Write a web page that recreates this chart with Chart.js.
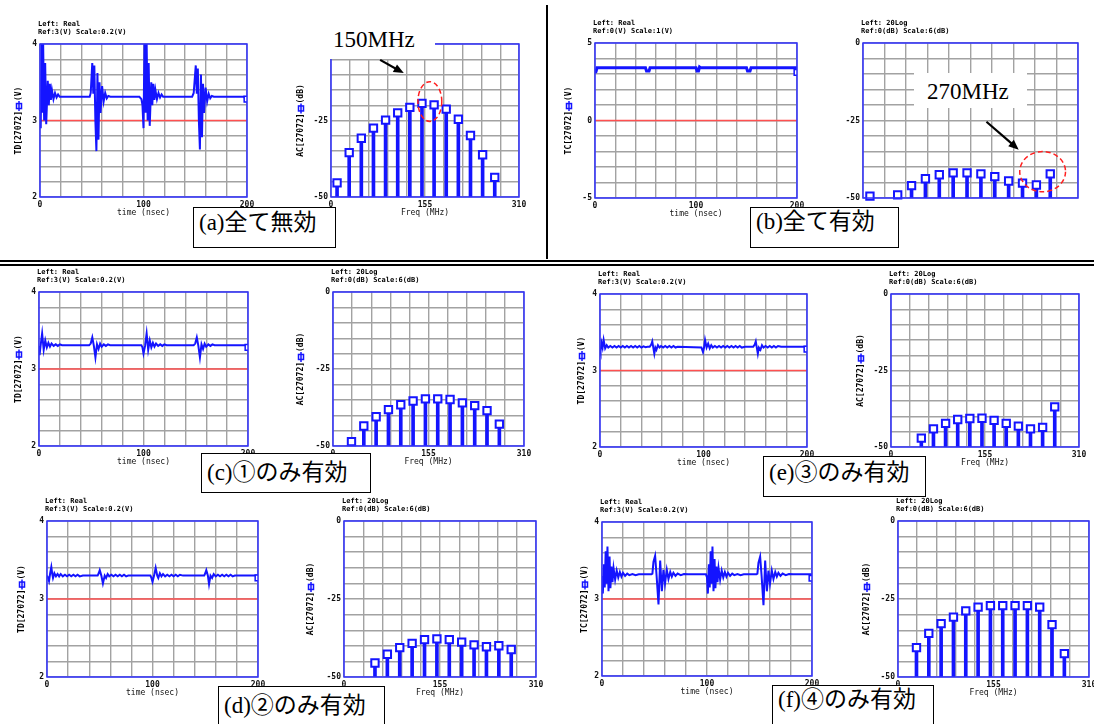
<!DOCTYPE html>
<html>
<head>
<meta charset="utf-8">
<script src="https://cdn.jsdelivr.net/npm/chart.js@4"></script>
<style>
html, body { margin: 0; padding: 0; background: #fff; width: 1094px; height: 724px; overflow: hidden; }
canvas { position: absolute; }
.rule { position: absolute; background: #000; }
.box { position: absolute; box-sizing: border-box; border: 1.5px solid #000; background: #fff; z-index: 10;
       padding-left: 5px; white-space: nowrap; color: #000;
       font-family: "Liberation Serif", "Noto Sans CJK JP", serif; font-size: 23px; }
.note { position: absolute; box-sizing: border-box; background: #fff; z-index: 10; white-space: nowrap; color: #000;
        font-family: "Liberation Serif", serif; font-size: 23px; }
</style>
</head>
<body>
<div class="rule" style="left:546px;top:5px;width:1.5px;height:254px"></div>
<div class="rule" style="left:0;top:260px;width:1094px;height:2px"></div>
<div class="rule" style="left:0;top:263.5px;width:1094px;height:2px"></div>

<div class="box" style="left:193px;top:207px;width:143px;height:41px;line-height:30px">(a)全て無効</div>
<div class="box" style="left:750px;top:207px;width:149px;height:41px;line-height:28px">(b)全て有効</div>
<div class="box" style="left:201px;top:453px;width:170px;height:40px;line-height:38px">(c)①のみ有効</div>
<div class="box" style="left:763px;top:456px;width:163px;height:41px;line-height:32px">(e)③のみ有効</div>
<div class="box" style="left:218px;top:686px;width:167px;height:45px;line-height:38px">(d)②のみ有効</div>
<div class="box" style="left:772px;top:685px;width:162px;height:45px;line-height:28px">(f)④のみ有効</div>

<div class="note" style="left:318px;top:18px;width:117px;height:41px;line-height:44px;padding-left:15px">150MHz</div>
<div class="note" style="left:914px;top:73px;width:113px;height:35px;line-height:38px;padding-left:13px">270MHz</div>

<script>
// ---- data ----
const tdXLabels = [0, 100, 200];
const tdYLabels = [2, 3, 4];
const tdYLabelsB = [-5, 0, 5];
const fdXLabels = [0, 155, 310];
const fdYLabels = [-50, -25, 0];

const harmonics = [10, 30, 50, 70, 90, 110, 130, 150, 170, 190, 210, 230, 250, 270];
const fdA = [-45.4, -35.5, -30.8, -27.5, -24.9, -22.5, -20.7, -19.4, -19.9, -21.3, -24.6, -29.9, -36.2, -43.6];
const fdB = [-49.4, null, -49.0, -46.0, -43.8, -42.5, -41.9, -41.9, -42.2, -43.1, -44.5, -45.2, -45.8, -42.2];
const fdC = [null, -48.6, -43.5, -40.5, -38.2, -36.6, -35.4, -34.7, -34.7, -34.9, -36.0, -36.9, -38.5, -42.9];
const fdD = [null, null, -45.5, -42.7, -40.6, -39.2, -38.0, -37.8, -38.0, -38.8, -39.7, -40.3, -40.0, -41.2];
const fdE = [null, null, -47.1, -44.1, -42.3, -41.0, -40.7, -40.6, -41.3, -42.3, -43.2, -44.1, -43.6, -36.9];
const fdF = [null, -40.6, -36.0, -32.9, -30.8, -28.8, -27.6, -27.1, -27.1, -27.1, -27.1, -27.6, -33.2, -42.5];

// time waveforms [nsec, V]
const tdA = [[0,3.28],[0.7,2.9],[1.5,4.05],[2.3,3.1],[3,4.05],[4,3.0],[5,3.75],[6,2.95],[7.5,3.52],[8.5,3.2],[9.5,3.48],[10.5,3.27],[11.5,3.4],[13,3.28],[14.5,3.36],[16,3.3],[17.5,3.34],[19,3.31],
  [48,3.31],[49,3.36],[50.5,3.75],[51.5,3.35],[52.5,3.72],[53.5,3.0],[54.5,2.6],[55.5,3.62],[56.5,2.75],[57.5,3.5],[58.5,3.1],[60,3.45],[61.5,3.25],[63,3.36],[64.5,3.29],[66,3.32],[68,3.31],
  [96,3.31],[98,3.28],[99,3.2],[100,2.9],[101,4.05],[102,3.1],[103,4.05],[104,3.0],[105,3.75],[106,2.93],[107.5,3.5],[108.5,3.2],[109.5,3.48],[110.5,3.27],[111.5,3.4],[113,3.28],[114.5,3.36],[116,3.3],[117.5,3.34],[119,3.31],
  [147,3.31],[148.5,3.36],[150.5,3.72],[151.5,3.35],[152.5,3.68],[153.5,3.0],[154.5,2.62],[155.5,3.6],[156.5,2.78],[157.5,3.48],[158.5,3.1],[160,3.43],[161.5,3.25],[163,3.35],[164.5,3.29],[166,3.32],[168,3.31],
  [197,3.31],[198.5,3.28],[200,3.28]];
const tdB = [[0,3.1],[1,3.15],[2,3.4],[50,3.4],[51,3.2],[53.5,3.2],[54.5,3.4],[100,3.4],[101,3.2],[102.5,3.2],[103.5,3.45],[104.5,3.4],
  [150,3.4],[151,3.2],[153.5,3.2],[154.5,3.4],[199,3.4],[200,3.1]];
const tdC = [[0,3.3],[0.5,3.18],[1.5,3.3],[3,3.46],[4.5,3.25],[6,3.37],[7.5,3.28],[9,3.34],[10.5,3.29],[12,3.33],[14,3.3],[16,3.32],[18,3.3],[20,3.32],[22,3.31],
  [48,3.31],[49.5,3.33],[51,3.41],[52.5,3.3],[54,3.15],[55.5,3.32],[57,3.26],[58.5,3.33],[60,3.29],[62,3.32],[64,3.3],[66,3.32],[68,3.31],
  [98,3.31],[99,3.28],[100,3.2],[101.5,3.3],[103,3.46],[104.5,3.25],[106,3.37],[107.5,3.28],[109,3.34],[110.5,3.29],[112,3.33],[114,3.3],[116,3.32],[118,3.3],[120,3.32],[122,3.31],
  [148,3.31],[149.5,3.33],[151,3.41],[152.5,3.3],[154,3.15],[155.5,3.32],[157,3.26],[158.5,3.33],[160,3.29],[162,3.32],[164,3.3],[166,3.32],[168,3.31],
  [199,3.31],[200,3.28]];
const tdD = [[0,3.3],[1,3.27],[1.9,3.23],[3,3.33],[4.1,3.41],[5,3.32],[5.7,3.27],[7,3.33],[8.5,3.29],[10,3.32],[11.5,3.29],[13,3.32],[15,3.29],[17,3.31],[19,3.29],[21,3.31],[23,3.29],[25,3.31],[27,3.29],[29,3.31],[31,3.29],[34,3.3],
  [48,3.3],[49,3.33],[50,3.37],[51.5,3.3],[53,3.2],[54.7,3.3],[56,3.27],[57.5,3.32],[59,3.29],[61,3.31],[63,3.29],[65,3.31],[67,3.29],[69,3.31],[71,3.29],[73,3.31],[75,3.29],[77,3.3],
  [98,3.3],[99,3.27],[100,3.22],[101.5,3.3],[103,3.4],[104.5,3.3],[105.5,3.27],[107,3.33],[108.5,3.29],[110,3.32],[112,3.29],[114,3.31],[116,3.29],[118,3.31],[120,3.29],[122,3.31],[124,3.29],[126,3.31],[129,3.3],
  [149,3.3],[150,3.33],[151,3.37],[152.5,3.3],[153.6,3.19],[155,3.3],[156.5,3.27],[158,3.32],[160,3.29],[162,3.31],[164,3.29],[166,3.31],[168,3.29],[170,3.31],[172,3.29],[174,3.31],[176,3.29],[178,3.3],
  [199,3.3],[200,3.27]];
const tdE = [[0,3.28],[0.5,3.25],[1.5,3.36],[2.5,3.3],[3.5,3.4],[5,3.29],[6.5,3.33],[8,3.3],[10,3.32],[12,3.3],[14,3.32],[16,3.3],[18,3.32],[20,3.3],[22,3.32],[24,3.3],[26,3.32],[28,3.3],[30,3.32],[32,3.3],[34,3.32],[36,3.3],[38,3.32],[40,3.3],[42,3.315],[44,3.305],[46,3.31],
  [48,3.31],[49.5,3.34],[50.5,3.38],[51.5,3.3],[52.5,3.22],[53.5,3.3],[54.5,3.27],[56,3.33],[57.5,3.3],[59,3.32],[61,3.3],[63,3.32],[65,3.3],[67,3.32],[69,3.3],[71,3.32],[73,3.3],[75,3.31],
  [98,3.3],[99.5,3.24],[100.5,3.3],[101.5,3.4],[103,3.3],[104.5,3.35],[106,3.29],[107.5,3.33],[109,3.3],[111,3.32],[113,3.3],[115,3.32],[117,3.3],[119,3.32],[121,3.3],[123,3.32],[125,3.3],[127,3.32],[129,3.3],[131,3.32],[133,3.3],[135,3.32],[137,3.3],[140,3.31],
  [148,3.31],[149.5,3.34],[150.5,3.38],[151.5,3.3],[152.5,3.22],[153.5,3.3],[155,3.27],[156.5,3.33],[158,3.3],[160,3.32],[162,3.3],[164,3.32],[166,3.3],[168,3.32],[170,3.3],[172,3.32],[175,3.31],
  [199,3.31],[200,3.28]];
const tdF = [[0,3.3],[0.8,3.07],[1.8,3.45],[2.6,3.15],[3.5,3.62],[4.5,3.2],[5.2,3.68],[6.2,3.1],[7.2,3.55],[8,3.14],[9,3.42],[10,3.22],[11,3.4],[12.5,3.25],[14,3.37],[15.5,3.28],[17,3.35],[18.5,3.29],[20,3.34],[22,3.3],[24,3.33],[26,3.31],[29,3.325],[32,3.31],[35,3.32],[38,3.32],
  [47,3.32],[48,3.33],[49,3.48],[50.6,3.56],[52,3.3],[53.8,2.93],[55.4,3.5],[57,3.1],[58.5,3.38],[60,3.2],[61.7,3.38],[63.3,3.26],[65,3.35],[66.5,3.29],[68,3.34],[70,3.3],[72,3.33],[75,3.31],[78,3.325],[82,3.32],
  [99,3.32],[100,3.28],[100.8,3.07],[101.8,3.45],[102.6,3.15],[103.5,3.62],[104.5,3.2],[105.2,3.68],[106.2,3.1],[107.2,3.52],[108,3.14],[109,3.42],[110,3.22],[111,3.4],[112.5,3.25],[114,3.37],[115.5,3.28],[117,3.35],[118.5,3.29],[120,3.34],[122,3.3],[124,3.33],[126,3.31],[129,3.325],[132,3.31],[135,3.32],[138,3.32],
  [147,3.32],[148,3.33],[149,3.47],[150.6,3.55],[152,3.3],[153.8,2.92],[155.4,3.5],[157,3.1],[158.5,3.37],[160,3.2],[161.7,3.37],[163.3,3.26],[165,3.35],[166.5,3.29],[168,3.34],[170,3.3],[172,3.33],[175,3.31],[178,3.325],[182,3.32],
  [199,3.32],[200,3.27]];

// ---- drawing ----
const BLUE = '#1414ff';
const FRAME = '#3030ff';
const RED = '#ff5050';
const GRID = '#a2a2a2';
const M = { l: 45, t: 30, r: 14, b: 21 };

Chart.defaults.font.family = '"DejaVu Sans Mono", monospace';
Chart.defaults.color = '#111';

function makeCanvas(r) {
    const c = document.createElement('canvas');
    c.width = r[2] - r[0] + M.l + M.r;
    c.height = r[3] - r[1] + M.t + M.b;
    c.style.left = (r[0] - M.l) + 'px';
    c.style.top = (r[1] - M.t) + 'px';
    document.body.appendChild(c);
    return c;
}

function onlyLabels(list) {
    return function (v) {
        return list.some(l => Math.abs(l - v) < 1e-6) ? String(Math.round(v * 10) / 10) : '';
    };
}

const deco = {
    id: 'deco',
    afterDraw(chart, args, o) {
        const { ctx, chartArea: a, scales } = chart;
        ctx.save();
        ctx.strokeStyle = FRAME;
        ctx.lineWidth = 1.5;
        ctx.strokeRect(a.left, a.top, a.width, a.height);

        ctx.fillStyle = '#000';
        ctx.font = 'bold 7px "DejaVu Sans Mono"';
        ctx.textBaseline = 'middle';
        ctx.textAlign = 'left';
        ctx.fillText(o.head[0], a.left - 2, a.top - 20);
        ctx.fillText(o.head[1], a.left - 2, a.top - 12);

        if (o.yTitle) {
            ctx.save();
            ctx.translate(a.left - o.yOff, (a.top + a.bottom) / 2);
            ctx.rotate(-Math.PI / 2);
            ctx.font = 'bold 8px "DejaVu Sans Mono"';
            const w1 = ctx.measureText(o.yTitle[0]).width;
            const w2 = ctx.measureText(o.yTitle[1]).width;
            const gap = 10;
            const x0 = -(w1 + gap + w2) / 2;
            ctx.fillText(o.yTitle[0], x0, 0);
            const ix = x0 + w1 + gap / 2;
            ctx.strokeStyle = BLUE;
            ctx.lineWidth = 1.5;
            ctx.beginPath();
            ctx.moveTo(ix - 5, 0);
            ctx.lineTo(ix + 5, 0);
            ctx.stroke();
            ctx.strokeRect(ix - 2.5, -2.5, 5, 5);
            ctx.fillText(o.yTitle[1], x0 + w1 + gap, 0);
            ctx.restore();
        }

        if (o.notes) {
            const n = o.notes;
            const sx = scales.x, sy = scales.y;
            const cx = sx.getPixelForValue(n.ellipse[0]), cy = sy.getPixelForValue(n.ellipse[1]);
            const rx = Math.abs(sx.getPixelForValue(n.ellipse[0] + n.ellipse[2]) - cx);
            const ry = Math.abs(sy.getPixelForValue(n.ellipse[1] + n.ellipse[3]) - cy);
            ctx.strokeStyle = '#ff2020';
            ctx.lineWidth = 1.5;
            ctx.setLineDash([5, 3]);
            ctx.beginPath();
            ctx.ellipse(cx, cy, rx, ry, 0, 0, Math.PI * 2);
            ctx.stroke();
            ctx.setLineDash([]);

            const x1 = sx.getPixelForValue(n.arrow[0]), y1 = sy.getPixelForValue(n.arrow[1]);
            const x2 = sx.getPixelForValue(n.arrow[2]), y2 = sy.getPixelForValue(n.arrow[3]);
            const ang = Math.atan2(y2 - y1, x2 - x1);
            ctx.strokeStyle = '#000';
            ctx.fillStyle = '#000';
            ctx.lineWidth = 2.2;
            ctx.beginPath();
            ctx.moveTo(x1, y1);
            ctx.lineTo(x2 - 8 * Math.cos(ang), y2 - 8 * Math.sin(ang));
            ctx.stroke();
            ctx.beginPath();
            ctx.moveTo(x2, y2);
            ctx.lineTo(x2 - 11 * Math.cos(ang - 0.4), y2 - 11 * Math.sin(ang - 0.4));
            ctx.lineTo(x2 - 11 * Math.cos(ang + 0.4), y2 - 11 * Math.sin(ang + 0.4));
            ctx.closePath();
            ctx.fill();
        }
        ctx.restore();
    }
};

function axis(min, max, step, labels, title, showLabels) {
    return {
        type: 'linear',
        min: min,
        max: max,
        offset: false,
        ticks: {
            stepSize: step,
            autoSkip: false,
            maxRotation: 0,
            padding: 3,
            display: showLabels,
            font: { size: 8, weight: 'bold' },
            callback: onlyLabels(labels)
        },
        grid: { color: GRID, lineWidth: 1.4, drawTicks: false, offset: false },
        border: { display: false },
        title: { display: !!title && showLabels, text: title, padding: 0, font: { size: 8 } }
    };
}

function tdChart(cfg) {
    const wave = cfg.wave;
    const last = wave.length - 1;
    const x = axis(0, 200, 20, tdXLabels, 'time (nsec)', true);
    x.afterFit = s => { s.height = M.b; };
    const y = axis(cfg.y[0], cfg.y[1], cfg.y[2], cfg.yLabels, '', true);
    y.afterFit = s => { s.width = M.l; };
    new Chart(makeCanvas(cfg.rect), {
        type: 'scatter',
        data: {
            datasets: [{
                data: wave.map(p => ({ x: p[0], y: p[1] })),
                showLine: true,
                borderColor: BLUE,
                borderWidth: cfg.lw,
                tension: 0,
                pointStyle: 'rect',
                pointRadius: c => (c.dataIndex === last ? 4 : 0),
                pointBorderColor: BLUE,
                pointBackgroundColor: '#fff',
                pointBorderWidth: 1.5
            }, {
                data: [{ x: 0, y: cfg.ref }, { x: 200, y: cfg.ref }],
                showLine: true,
                borderColor: RED,
                borderWidth: 1.5,
                pointRadius: 0
            }]
        },
        options: {
            responsive: false,
            animation: false,
            layout: { padding: { left: 0, top: M.t, right: M.r, bottom: 0 } },
            scales: { x: x, y: y },
            plugins: {
                legend: { display: false },
                tooltip: { enabled: false },
                deco: { head: ['Left: Real', cfg.head], yTitle: [cfg.name, '(V)'], yOff: cfg.yOff }
            }
        },
        plugins: [deco]
    });
}

function fdChart(cfg) {
    const pts = [];
    harmonics.forEach((f, i) => {
        if (cfg.values[i] !== null) pts.push({ x: f, y: cfg.values[i] });
    });
    const x = axis(0, 310, 31, fdXLabels, 'Freq (MHz)', cfg.showX);
    x.afterFit = s => { s.height = M.b; };
    const y = axis(-50, 0, 5, fdYLabels, '', true);
    y.afterFit = s => { s.width = M.l; };
    new Chart(makeCanvas(cfg.rect), {
        type: 'bar',
        data: {
            datasets: [{
                type: 'line',
                data: pts,
                showLine: false,
                pointStyle: 'rect',
                pointRadius: 5.2,
                pointBorderWidth: 2,
                pointBorderColor: BLUE,
                pointBackgroundColor: '#fff',
                clip: false
            }, {
                type: 'bar',
                data: pts.map(p => ({ x: p.x, y: [-50, p.y] })),
                backgroundColor: BLUE,
                barThickness: 3,
                grouped: false
            }]
        },
        options: {
            responsive: false,
            animation: false,
            layout: { padding: { left: 0, top: M.t, right: M.r, bottom: 0 } },
            scales: { x: x, y: y },
            plugins: {
                legend: { display: false },
                tooltip: { enabled: false },
                deco: {
                    head: ['Left: 20Log', 'Ref:0(dB) Scale:6(dB)'],
                    yTitle: cfg.yTitle ? ['AC[27072]', '(dB)'] : null,
                    yOff: cfg.yOff,
                    notes: cfg.notes
                }
            }
        },
        plugins: [deco]
    });
}

const std = [2, 4, 0.2];
tdChart({ rect: [40, 44, 247, 197], wave: tdA, ref: 3, y: std, yLabels: tdYLabels, name: 'TD[27072]', head: 'Ref:3(V) Scale:0.2(V)', yOff: 21, lw: 2 });
tdChart({ rect: [595, 43, 797, 198], wave: tdB, ref: 0, y: [-5, 5, 1], yLabels: tdYLabelsB, name: 'TC[27072]', head: 'Ref:0(V) Scale:1(V)', yOff: 26, lw: 3 });
tdChart({ rect: [39, 292, 248, 446], wave: tdC, ref: 3, y: std, yLabels: tdYLabels, name: 'TD[27072]', head: 'Ref:3(V) Scale:0.2(V)', yOff: 20, lw: 2 });
tdChart({ rect: [600, 294, 807, 447], wave: tdE, ref: 3, y: std, yLabels: tdYLabels, name: 'TD[27072]', head: 'Ref:3(V) Scale:0.2(V)', yOff: 18, lw: 2 });
tdChart({ rect: [47, 521, 258, 677], wave: tdD, ref: 3, y: std, yLabels: tdYLabels, name: 'TD[27072]', head: 'Ref:3(V) Scale:0.2(V)', yOff: 25, lw: 2 });
tdChart({ rect: [602, 522, 812, 676], wave: tdF, ref: 3, y: std, yLabels: tdYLabels, name: 'TC[27072]', head: 'Ref:3(V) Scale:0.2(V)', yOff: 17, lw: 2 });

fdChart({ rect: [331, 44, 519, 197], values: fdA, showX: true, yTitle: true, yOff: 30,
          notes: { ellipse: [163, -18.8, 19.7, 6.5], arrow: [81, -5.2, 120, -9.5] } });
fdChart({ rect: [863, 43, 1078, 198], values: fdB, showX: false, yTitle: false, yOff: 30,
          notes: { ellipse: [259, -41.5, 33, 6.5], arrow: [178, -25.4, 224.5, -34.4] } });
fdChart({ rect: [333, 292, 524, 446], values: fdC, showX: true, yTitle: true, yOff: 32 });
fdChart({ rect: [891, 294, 1079, 447], values: fdE, showX: true, yTitle: true, yOff: 30 });
fdChart({ rect: [344, 521, 536, 677], values: fdD, showX: true, yTitle: true, yOff: 33 });
fdChart({ rect: [898, 521, 1089, 677], values: fdF, showX: true, yTitle: true, yOff: 31 });
</script>
</body>
</html>
